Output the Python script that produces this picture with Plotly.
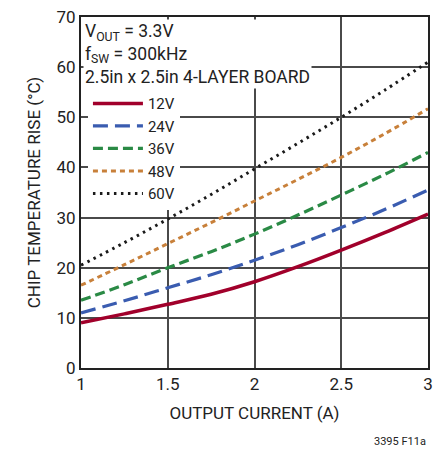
import plotly.graph_objects as go

current = [1.0, 1.25, 1.5, 1.75, 2.0, 2.25, 2.5, 2.75, 3.0]

# temperature rise (°C)
rise_12v = [9.0, 10.8, 12.7, 14.7, 17.2, 20.2, 23.5, 27.0, 30.7]
rise_24v = [11.0, 13.4, 16.0, 18.6, 21.5, 24.6, 28.0, 31.6, 35.5]
rise_36v = [13.5, 16.6, 20.0, 23.2, 26.7, 30.5, 34.5, 38.6, 43.0]
rise_48v = [16.5, 20.6, 24.8, 29.0, 33.3, 37.6, 42.0, 46.7, 51.7]
rise_60v = [20.5, 25.0, 29.7, 34.6, 39.7, 44.8, 50.0, 55.4, 61.0]

labels = ["12V", "24V", "36V", "48V", "60V"]
colors = ["#A1002B", "#3A5CB0", "#2A8A45", "#C8803A", "#1A1A1A"]
dashes = ["solid", "15px,7px", "10px,5px", "5px,4px", "2.5px,4.5px"]
widths = [3.5, 3.2, 3.2, 3.0, 3.0]

font = "Roboto, Liberation Sans, sans-serif"

fig = go.Figure()
for name, ys, c, d, w in zip(labels, [rise_12v, rise_24v, rise_36v, rise_48v, rise_60v],
                             colors, dashes, widths):
    fig.add_trace(go.Scatter(x=current, y=ys, name=name, mode="lines",
                             line=dict(color=c, dash=d, width=w, shape="spline")))

axis_style = dict(showgrid=True, gridcolor="#4a4a4a", gridwidth=1.5,
                  showline=True, linecolor="#222222", linewidth=2, mirror=True,
                  ticks="", zeroline=False, tickfont=dict(size=17, color="#222"))

fig.update_xaxes(range=[1, 3], tickvals=[1, 1.5, 2, 2.5, 3],
                 ticktext=["1", "1.5", "2", "2.5", "3"],
                 title=dict(text="OUTPUT CURRENT (A)", font=dict(size=17, color="#222"), standoff=14),
                 **axis_style)
fig.update_yaxes(range=[0, 70], dtick=10,
                 title=dict(text="CHIP TEMPERATURE RISE (°C)", font=dict(size=17, color="#222"), standoff=12),
                 **axis_style)

fig.add_annotation(xref="paper", yref="paper", x=0.005, y=0.995, xanchor="left", yanchor="top",
                   align="left", showarrow=False, bgcolor="white",
                   text="V<sub>OUT</sub> = 3.3V<br>f<sub>SW</sub> = 300kHz<br>2.5in x 2.5in 4-LAYER BOARD",
                   font=dict(size=17.5, color="#222"))
fig.add_annotation(xref="paper", yref="paper", x=1.0, y=-0.185, xanchor="right", yanchor="top",
                   showarrow=False, text="3395 F11a", font=dict(size=11, color="#222"))

fig.update_layout(
    width=440, height=451,
    margin=dict(l=81, r=7, t=16, b=83),
    paper_bgcolor="white", plot_bgcolor="white",
    font=dict(family=font, color="#222"),
    legend=dict(x=0.02, y=0.80, xanchor="left", yanchor="top", bgcolor="white",
                font=dict(size=15, color="#222"), itemwidth=50, tracegroupgap=0),
)

fig.write_html("out.html", config={"displayModeBar": False},
               post_script="document.body.style.margin='0';")
